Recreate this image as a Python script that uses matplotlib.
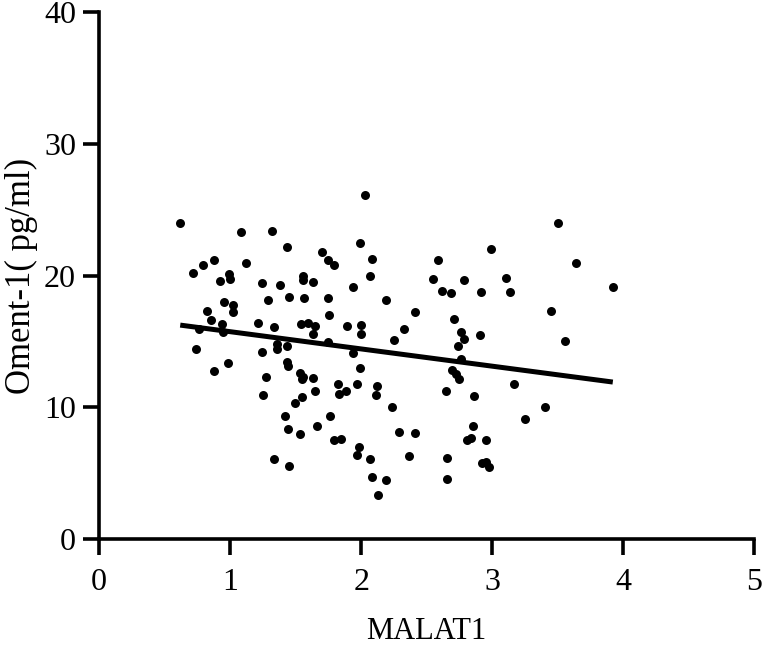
import numpy as np
import matplotlib
matplotlib.use("Agg")
import matplotlib.pyplot as plt

# MALAT1 expression (x) vs Oment-1 level (y)
malat1 = [
    0.62, 1.086, 1.32, 1.434, 1.702, 1.75, 1.79, 1.995, 0.717, 0.793,
    0.876, 1.124, 0.992, 1.0, 0.924, 1.24, 1.38, 1.555, 1.555, 1.634,
    1.94, 0.957, 1.023, 1.025, 0.826, 0.856, 0.942, 1.288, 1.45, 1.566,
    1.75, 1.758, 1.21, 1.338, 1.538, 1.596, 1.649, 1.896, 1.63, 0.765,
    0.947, 2.033, 2.08, 2.066, 2.59, 2.99, 2.548, 2.785, 2.62, 2.687,
    2.917, 3.108, 3.139, 2.187, 2.411, 2.33, 2.71, 1.997, 1.997, 2.76,
    2.91, 3.45, 3.5, 3.64, 3.92, 3.556, 3.40, 2.247, 2.785, 2.742,
    1.94, 1.995, 1.97, 2.12, 2.114, 2.235, 2.76, 2.69, 2.72, 2.75,
    2.644, 2.86, 3.167, 3.247, 2.853, 2.805, 2.84, 2.955, 2.29, 2.41,
    1.98, 1.965, 2.07, 2.364, 2.657, 2.086, 2.19, 2.657, 2.13, 2.924,
    2.975, 2.955, 0.74, 0.982, 0.879, 1.242, 1.356, 1.356, 1.437, 1.75,
    1.437, 1.44, 1.273, 1.255, 1.536, 1.553, 1.548, 1.634, 1.649, 1.826,
    1.833, 1.884, 1.495, 1.55, 1.419, 1.765, 1.44, 1.535, 1.66, 1.793,
    1.85, 1.336, 1.45,
]
oment1 = [
    23.96, 23.28, 23.35, 22.16, 21.8, 21.18, 20.8, 22.44, 20.19, 20.82,
    21.15, 20.95, 20.09, 19.76, 19.6, 19.4, 19.3, 19.96, 19.68, 19.5,
    19.15, 17.99, 17.79, 17.2, 17.33, 16.62, 16.34, 18.16, 18.37, 18.29,
    18.29, 16.98, 16.42, 16.07, 16.32, 16.37, 16.19, 16.19, 15.6, 15.95,
    15.75, 26.13, 21.28, 19.94, 21.15, 22.04, 19.73, 19.63, 18.82, 18.67,
    18.75, 19.78, 18.72, 18.14, 17.23, 15.94, 16.72, 16.24, 15.6, 15.69,
    15.45, 17.33, 23.96, 20.92, 19.15, 15.03, 10.04, 15.13, 15.16, 14.65,
    14.12, 12.95, 11.76, 11.61, 10.9, 10.04, 13.66, 12.83, 12.52, 12.17,
    11.23, 10.88, 11.76, 9.13, 8.6, 7.51, 7.67, 7.49, 8.12, 8.07,
    6.98, 6.35, 6.07, 6.3, 6.17, 4.73, 4.5, 4.53, 3.31, 5.75,
    5.49, 5.84, 14.42, 13.33, 12.73, 14.22, 14.78, 14.4, 14.65, 14.98,
    13.46, 13.13, 12.3, 10.9, 12.58, 12.32, 12.12, 12.24, 11.23, 11.76,
    11.0, 11.23, 10.3, 10.76, 9.34, 9.34, 8.33, 7.95, 8.6, 7.51,
    7.61, 6.1, 5.52,
]

# fitted line as drawn in the figure
fit_x = [0.62, 3.92]
fit_slope = -1.31
fit_intercept = 17.05

x_ticks = [0, 1, 2, 3, 4, 5]
y_ticks = [0, 10, 20, 30, 40]

plt.rcParams['font.family'] = ['Liberation Serif', 'Noto Sans CJK SC']

fig = plt.figure(figsize=(7.63, 6.51), dpi=100)
ax = fig.add_axes([0.1297, 0.172, 0.859, 0.8095])

ax.scatter(malat1, oment1, s=42, color='black', zorder=3, linewidths=0)
fx = np.array(fit_x)
ax.plot(fx, fit_slope * fx + fit_intercept, color='black', lw=3.6,
        solid_capstyle='butt', zorder=2)

ax.set_xlim(0, 5)
ax.set_ylim(0, 40)
ax.set_xticks(x_ticks)
ax.set_yticks(y_ticks)

for side in ['top', 'right']:
    ax.spines[side].set_visible(False)
for side in ['left', 'bottom']:
    ax.spines[side].set_linewidth(2.6)
    ax.spines[side].set_capstyle('projecting')

ax.tick_params(direction='out', length=11.5, width=2.6, labelsize=23,
               pad=5)
ax.tick_params(axis='x', pad=9)
ax.set_xlabel('MALAT1', fontsize=22, labelpad=15)
ax.set_ylabel('Oment-1( pg/ml)', fontsize=25, labelpad=4)

fig.savefig('out.png', dpi=100)
